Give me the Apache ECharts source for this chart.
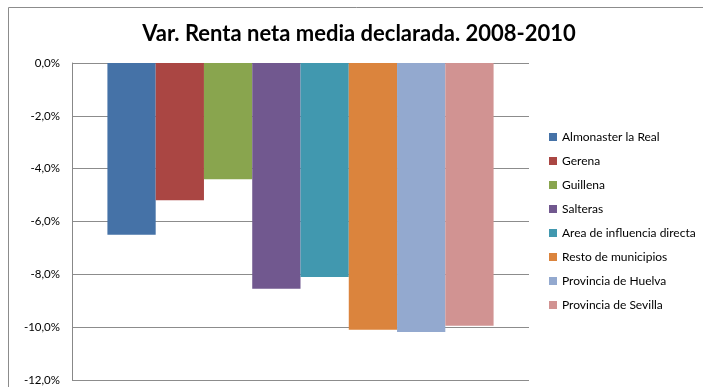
<!DOCTYPE html>
<html>
<head>
<meta charset="utf-8">
<script src="https://cdn.jsdelivr.net/npm/echarts@6/dist/echarts.min.js"></script>
<style>
  html, body { margin: 0; padding: 0; background: #fff; }
  #chart { width: 703px; height: 387px; }
</style>
</head>
<body>
<div id="chart"></div>
<script>
// Variación de la renta neta media declarada, 2008-2010 (%)
const titleText = 'Var. Renta neta media declarada. 2008-2010';
const categories = [''];
const seriesNames = [
  'Almonaster la Real',
  'Gerena',
  'Guillena',
  'Salteras',
  'Area de influencia directa',
  'Resto de municipios',
  'Provincia de Huelva',
  'Provincia de Sevilla'
];
const seriesValues = [-6.5, -5.2, -4.4, -8.55, -8.1, -10.1, -10.18, -9.95];
const seriesColors = ['#4572a7', '#aa4643', '#89a54e', '#71588f', '#4198af', '#db843d', '#93a9cf', '#d19392'];
const yTicks = { min: -12, max: 0, interval: 2 };

const chart = echarts.init(document.getElementById('chart'), null, { renderer: 'canvas' });

const fontFamily = 'Lato, "Open Sans", sans-serif';

const series = seriesNames.map((name, i) => ({
  name: name,
  type: 'bar',
  data: [seriesValues[i]],
  itemStyle: { color: seriesColors[i] },
  barGap: '0%',
  barCategoryGap: '15.5%',
  animation: false
}));

chart.setOption({
  animation: false,
  title: {
    text: titleText,
    left: 354,
    top: 18,
    textAlign: 'center',
    textStyle: { fontFamily: fontFamily, fontWeight: 'bold', fontSize: 22, color: '#000' }
  },
  legend: {
    orient: 'vertical',
    left: 549,
    top: 131,
    padding: 0,
    itemWidth: 8,
    itemHeight: 8,
    itemGap: 12,
    icon: 'rect',
    textStyle: { fontFamily: fontFamily, fontSize: 12, color: '#000' },
    data: seriesNames
  },
  grid: { left: 72, right: 174, top: 63, bottom: 7, containLabel: false },
  xAxis: {
    type: 'category',
    data: categories,
    position: 'top',
    axisLine: { show: false },
    axisTick: { show: false },
    axisLabel: { show: false }
  },
  yAxis: {
    type: 'value',
    min: yTicks.min,
    max: yTicks.max,
    interval: yTicks.interval,
    axisLine: { show: true, lineStyle: { color: '#888', width: 1 } },
    axisTick: { show: false },
    axisLabel: {
      margin: 12,
      fontFamily: fontFamily,
      fontSize: 11.5,
      color: '#000',
      formatter: v => v.toFixed(1).replace('.', ',') + '%'
    },
    splitLine: { show: true, lineStyle: { color: '#8c8c8c', width: 1 } }
  },
  graphic: [{
    type: 'rect',
    shape: { x: 8.5, y: 7.5, width: 720, height: 400 },
    style: { fill: 'none', stroke: '#8c8c8c', lineWidth: 1 },
    z: -1
  }],
  series: series
});
</script>
</body>
</html>
